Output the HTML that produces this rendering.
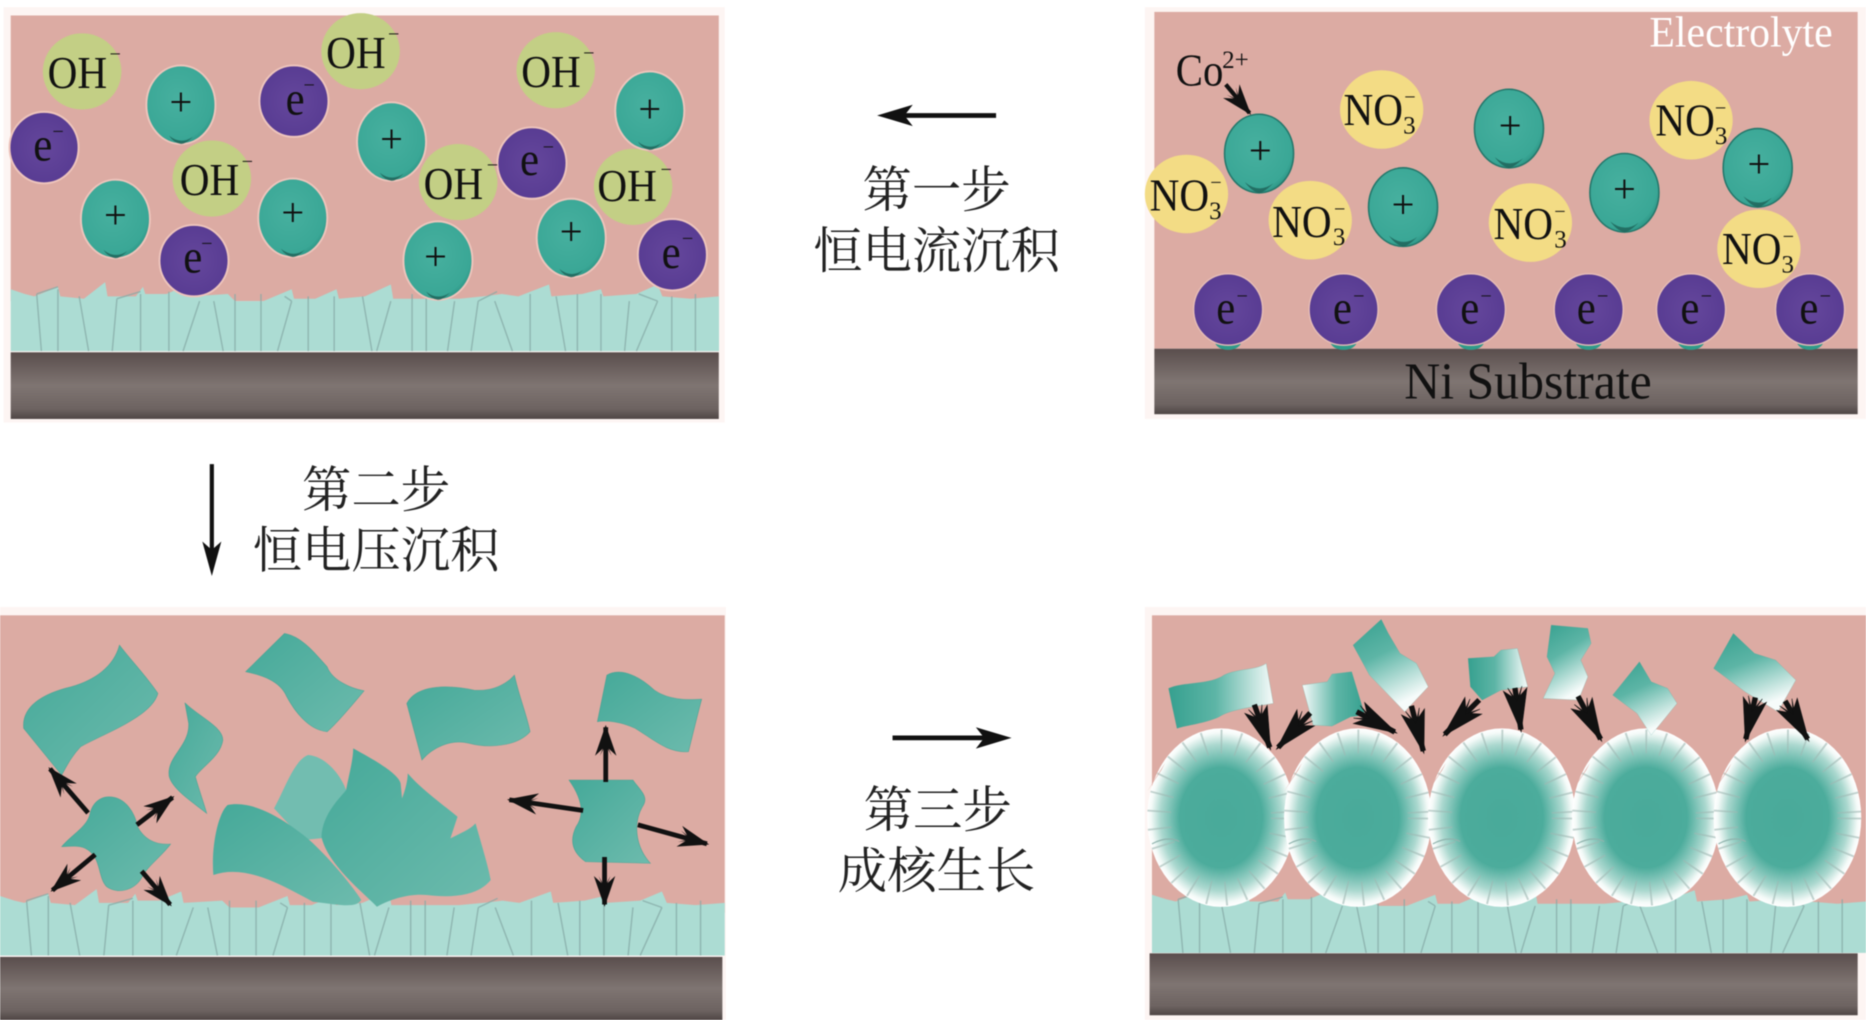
<!DOCTYPE html>
<html><head><meta charset="utf-8">
<style>
html,body{margin:0;padding:0;background:#fff;width:1866px;height:1020px;overflow:hidden}
svg{display:block;filter:blur(.55px)}
text{font-family:"Liberation Serif","Noto Serif CJK SC",serif;fill:#111}
.cn{font-family:"Noto Serif CJK SC","Liberation Serif",serif;font-size:41.5px;text-anchor:middle;fill:#222}
.p{font-size:34px;text-anchor:middle}
.m{font-size:17px}
.s{font-size:21px}
</style></head><body>
<svg width="1866" height="1020" viewBox="0 0 1568 857" preserveAspectRatio="none" xmlns="http://www.w3.org/2000/svg">
<defs>
<linearGradient id="sub" x1="0" y1="0" x2="0" y2="1"><stop offset="0" stop-color="#5a4e4d"/><stop offset=".5" stop-color="#7f7572"/><stop offset=".85" stop-color="#6d6361"/><stop offset="1" stop-color="#4f4645"/></linearGradient>
<radialGradient id="tg" cx=".45" cy=".42" r=".65"><stop offset="0" stop-color="#47b09f"/><stop offset=".8" stop-color="#3aa796"/><stop offset="1" stop-color="#24897a"/></radialGradient>
<radialGradient id="pg" cx=".5" cy=".5" r=".6"><stop offset="0" stop-color="#65479c"/><stop offset="1" stop-color="#563a91"/></radialGradient>
<radialGradient id="bg"><stop offset="0" stop-color="#49aa9a"/><stop offset=".56" stop-color="#4cac9c"/><stop offset=".82" stop-color="#abd8cf"/><stop offset=".95" stop-color="#f4faf8"/><stop offset="1" stop-color="#fff"/></radialGradient>
<linearGradient id="lr" x1="0" y1="0" x2="1" y2="0"><stop offset="0" stop-color="#36a08f"/><stop offset=".45" stop-color="#5db5a6"/><stop offset="1" stop-color="#f6fbfa"/></linearGradient>
<linearGradient id="rl" x1="1" y1="0" x2="0" y2="0"><stop offset="0" stop-color="#36a08f"/><stop offset=".45" stop-color="#5db5a6"/><stop offset="1" stop-color="#f6fbfa"/></linearGradient>
<linearGradient id="tb" x1="0" y1="0" x2=".4" y2="1"><stop offset="0" stop-color="#36a08f"/><stop offset=".45" stop-color="#5db5a6"/><stop offset="1" stop-color="#f6fbfa"/></linearGradient>
<linearGradient id="fl" x1="0" y1="0" x2="1" y2="1"><stop offset="0" stop-color="#45a999"/><stop offset="1" stop-color="#6dbbad"/></linearGradient>
<marker id="a1" markerUnits="userSpaceOnUse" markerWidth="40" markerHeight="30" viewBox="-30 -15 40 30" refX="0" refY="0" orient="auto"><path d="M2,0 L-24,-9 L-18,-2.5 L-24,-5 L-15,0 L-24,5 L-18,2.5 L-24,9Z" fill="#111"/></marker>
<marker id="a2" markerUnits="userSpaceOnUse" markerWidth="50" markerHeight="34" viewBox="-40 -17 50 34" refX="0" refY="0" orient="auto"><path d="M2,0 L-34,-10 L-28,-3 L-36,-6 L-24,0 L-36,6 L-28,3 L-34,10Z" fill="#111" stroke="#111" stroke-width=".5"/></marker>
<g id="film">
<path d="M0,4 L12,8 20,10 40,2 42,10 62,12 80,-2 82,10 106,10 112,2 114,8 132,8 150,0 152,10 184,8 190,14 214,14 238,4 240,12 258,12 276,4 278,12 300,10 322,0 324,12 346,12 380,12 400,10 416,8 430,10 456,0 458,10 484,8 500,4 502,10 530,8 548,0 552,10 576,12 600,10 V56 H0Z" fill="#acdcd3"/>
<path d="M22,8 L26,56 M40,4 L40,56 M22,8 L40,2 M58,10 L66,56 M90,12 L86,56 M90,12 L110,6 M110,8 L110,56 M134,6 L134,56 M160,14 L146,56 M172,14 L180,56 M190,8 L190,56 M212,8 L212,56 M238,14 L226,56 M232,10 L238,14 M252,10 L252,56 M274,10 L274,56 M298,10 L306,56 M322,14 L310,56 M340,8 L340,56 M352,8 L352,56 M376,14 L370,56 M396,14 L390,56 M410,14 L425,56 M396,14 L412,6 M440,8 L440,56 M462,10 L470,56 M480,8 L480,56 M500,8 L500,56 M524,14 L520,56 M548,14 L530,56 M532,8 L548,14 M560,10 L560,56 M580,8 L580,56" stroke="#86aaa5" stroke-opacity=".75" stroke-width="1.2" fill="none"/>
</g>
<g id="t"><ellipse rx="29" ry="33" fill="url(#tg)" stroke="#eec5bc" stroke-width="1.6"/><path d="M-10,26 Q0,34 10,27 Q4,33 0,33 Q-6,32 -10,26Z" fill="#1e6158" opacity=".8"/></g>
<g id="tb2"><ellipse rx="29" ry="33" fill="url(#tg)" stroke="#24776b" stroke-width="1.3"/><path d="M-12,24 Q0,34 12,25 Q4,33 0,33 Q-6,32 -12,24Z" fill="#1e6158" opacity=".8"/></g>
<g id="pu"><ellipse rx="29" ry="30" fill="url(#pg)" stroke="#eec5bc" stroke-width="1.6"/></g>
<g id="pb"><ellipse cx="0" cy="27" rx="11" ry="7" fill="#2f9a8a"/><ellipse rx="29" ry="30" fill="url(#pg)" stroke="#e6bdb6" stroke-width="1.2"/></g>
<g id="o"><ellipse rx="33" ry="32" fill="#c3cf85"/></g>
<g id="y"><ellipse rx="35" ry="33" fill="#f3dc85"/></g>
<g id="ball"><ellipse rx="62" ry="75" fill="url(#bg)"/><ellipse rx="52" ry="64" fill="none" stroke="#9fb8b3" stroke-opacity=".6" stroke-width="20" stroke-dasharray="1.4 13"/><path d="M-50,-40 L-62,-22 L-47,-46Z M46,-52 L52,-46 L44,-60Z" fill="#dcaba3"/><path d="M-58,22 Q-45,15 -35,20" fill="none" stroke="#8fb3ad" stroke-width="1"/></g>
</defs>

<!-- Panel A -->
<rect x="3" y="6" width="606" height="349" fill="#fdf5f3"/>
<rect x="9" y="13" width="595" height="240" fill="#dcaba3"/>
<use href="#film" transform="translate(9,239) scale(.992,1)"/>
<rect x="9" y="296" width="595" height="56" fill="url(#sub)"/>
<use href="#o" x="69" y="60"/><use href="#o" x="303" y="43"/><use href="#o" x="467" y="59"/><use href="#o" x="178" y="150"/><use href="#o" x="385" y="153"/><use href="#o" x="532" y="157"/>
<use href="#t" x="152" y="88"/><use href="#t" x="329" y="119"/><use href="#t" x="546" y="93"/><use href="#t" x="97" y="184"/><use href="#t" x="246" y="183"/><use href="#t" x="368" y="219"/><use href="#t" x="480" y="200"/>
<use href="#pu" x="247" y="85"/><use href="#pu" x="37" y="124"/><use href="#pu" x="447" y="137"/><use href="#pu" x="163" y="219"/><use href="#pu" x="565" y="214"/>
<text x="40" y="74" font-size="38" textLength="50" lengthAdjust="spacingAndGlyphs">OH</text><text class="m" x="92" y="51">−</text>
<text x="274" y="57" font-size="38" textLength="50" lengthAdjust="spacingAndGlyphs">OH</text><text class="m" x="326" y="34">−</text>
<text x="438" y="73" font-size="38" textLength="50" lengthAdjust="spacingAndGlyphs">OH</text><text class="m" x="490" y="50">−</text>
<text x="151" y="164" font-size="38" textLength="50" lengthAdjust="spacingAndGlyphs">OH</text><text class="m" x="203" y="141">−</text>
<text x="356" y="167" font-size="38" textLength="50" lengthAdjust="spacingAndGlyphs">OH</text><text class="m" x="409" y="144">−</text>
<text x="502" y="169" font-size="38" textLength="50" lengthAdjust="spacingAndGlyphs">OH</text><text class="m" x="555" y="148">−</text>
<text class="p" x="152" y="97">+</text><text class="p" x="329" y="128">+</text><text class="p" x="546" y="103">+</text><text class="p" x="97" y="192">+</text><text class="p" x="246" y="190">+</text><text class="p" x="366" y="227">+</text><text class="p" x="480" y="206">+</text>
<text x="240" y="96" font-size="40" textLength="16" lengthAdjust="spacingAndGlyphs">e</text><text class="m" x="255" y="77">−</text>
<text x="28" y="135" font-size="40" textLength="16" lengthAdjust="spacingAndGlyphs">e</text><text class="m" x="44" y="116">−</text>
<text x="437" y="147" font-size="40" textLength="16" lengthAdjust="spacingAndGlyphs">e</text><text class="m" x="456" y="129">−</text>
<text x="154" y="229" font-size="40" textLength="16" lengthAdjust="spacingAndGlyphs">e</text><text class="m" x="169" y="210">−</text>
<text x="556" y="225" font-size="40" textLength="16" lengthAdjust="spacingAndGlyphs">e</text><text class="m" x="573" y="206">−</text>

<!-- Panel B -->
<rect x="962" y="6" width="606" height="346" fill="#fdf5f3"/>
<rect x="970" y="10" width="591" height="283" fill="#dcaba3"/>
<rect x="970" y="293" width="591" height="55" fill="url(#sub)"/>
<use href="#y" x="1161" y="92"/><use href="#y" x="1421" y="101"/><use href="#y" x="997" y="163"/><use href="#y" x="1101" y="185"/><use href="#y" x="1286" y="187"/><use href="#y" x="1478" y="209"/>
<use href="#tb2" x="1058" y="129"/><use href="#tb2" x="1268" y="108"/><use href="#tb2" x="1179" y="174"/><use href="#tb2" x="1365" y="162"/><use href="#tb2" x="1477" y="141"/>
<use href="#pb" x="1032" y="260"/><use href="#pb" x="1129" y="260"/><use href="#pb" x="1236" y="260"/><use href="#pb" x="1335" y="260"/><use href="#pb" x="1421" y="260"/><use href="#pb" x="1521" y="260"/>
<text x="1386" y="39" font-size="36" textLength="154" lengthAdjust="spacingAndGlyphs" style="fill:#fff">Electrolyte</text>
<text x="988" y="72" font-size="38" textLength="40" lengthAdjust="spacingAndGlyphs">Co</text><text x="1027" y="57" font-size="21">2+</text>
<line x1="1030" y1="71" x2="1050" y2="95" stroke="#111" stroke-width="3.5" marker-end="url(#a1)"/>
<text x="1180" y="335" font-size="44" textLength="208" lengthAdjust="spacingAndGlyphs">Ni Substrate</text>
<text class="p" x="1059" y="138">+</text><text class="p" x="1269" y="117">+</text><text class="p" x="1179" y="183">+</text><text class="p" x="1365" y="170">+</text><text class="p" x="1478" y="149">+</text>
<text x="1129" y="105" font-size="38" textLength="50" lengthAdjust="spacingAndGlyphs">NO</text><text class="s" x="1179" y="112">3</text><text class="m" x="1180" y="87">−</text>
<text x="1391" y="114" font-size="38" textLength="50" lengthAdjust="spacingAndGlyphs">NO</text><text class="s" x="1441" y="121">3</text><text class="m" x="1441" y="96">−</text>
<text x="966" y="177" font-size="38" textLength="50" lengthAdjust="spacingAndGlyphs">NO</text><text class="s" x="1016" y="184">3</text><text class="m" x="1017" y="159">−</text>
<text x="1069" y="199" font-size="38" textLength="50" lengthAdjust="spacingAndGlyphs">NO</text><text class="s" x="1120" y="206">3</text><text class="m" x="1121" y="181">−</text>
<text x="1255" y="201" font-size="38" textLength="50" lengthAdjust="spacingAndGlyphs">NO</text><text class="s" x="1306" y="208">3</text><text class="m" x="1306" y="183">−</text>
<text x="1447" y="222" font-size="38" textLength="50" lengthAdjust="spacingAndGlyphs">NO</text><text class="s" x="1497" y="229">3</text><text class="m" x="1498" y="204">−</text>
<text x="1022" y="272" font-size="40" textLength="16" lengthAdjust="spacingAndGlyphs">e</text><text class="m" x="1039" y="254">−</text>
<text x="1120" y="272" font-size="40" textLength="16" lengthAdjust="spacingAndGlyphs">e</text><text class="m" x="1137" y="254">−</text>
<text x="1227" y="272" font-size="40" textLength="16" lengthAdjust="spacingAndGlyphs">e</text><text class="m" x="1244" y="254">−</text>
<text x="1325" y="272" font-size="40" textLength="16" lengthAdjust="spacingAndGlyphs">e</text><text class="m" x="1342" y="254">−</text>
<text x="1412" y="272" font-size="40" textLength="16" lengthAdjust="spacingAndGlyphs">e</text><text class="m" x="1429" y="254">−</text>
<text x="1512" y="272" font-size="40" textLength="16" lengthAdjust="spacingAndGlyphs">e</text><text class="m" x="1529" y="254">−</text>

<!-- Center labels & step arrows -->
<line x1="837" y1="97" x2="745" y2="97" stroke="#111" stroke-width="4"/><path d="M737,97 L767,88 L760,97 L767,106Z" fill="#111"/>
<text class="cn" x="787" y="174">第一步</text>
<text class="cn" x="787" y="225">恒电流沉积</text>
<line x1="178" y1="390" x2="178" y2="475" stroke="#111" stroke-width="3.5"/><path d="M178,484 L170,455 L178,462 L186,455Z" fill="#111"/>
<text class="cn" x="316" y="426">第二步</text>
<text class="cn" x="316" y="477">恒电压沉积</text>
<line x1="750" y1="620" x2="842" y2="620" stroke="#111" stroke-width="4"/><path d="M850,620 L820,611 L827,620 L820,629Z" fill="#111"/>
<text class="cn" x="788" y="695">第三步</text>
<text class="cn" x="787" y="746">成核生长</text>

<!-- Panel C -->
<rect x="0" y="510" width="610" height="347" fill="#fdf5f3"/>
<rect x="0" y="517" width="609" height="250" fill="#dcaba3"/>
<use href="#film" transform="translate(0,749) scale(1.015,.96)"/>
<rect x="0" y="804" width="607" height="53" fill="url(#sub)"/>
<g transform="translate(0,504.2) scale(.3984,.28)" fill="url(#fl)" stroke="#2f9e8e" stroke-width="1.5" stroke-opacity=".6">
<path d="M252,135 C270,170 310,230 333,280 C320,350 220,400 170,440 C150,470 140,500 130,525 L50,385 C45,320 90,280 150,260 C200,240 240,200 252,135Z"/>
<path d="M390,308 C420,350 470,380 470,420 C465,470 425,500 412,530 C420,570 430,610 436,640 C410,610 365,570 357,530 C350,470 400,440 398,370Z"/>
<path d="M600,100 C640,110 670,170 690,200 C700,240 740,265 768,272 C740,320 710,370 690,395 C650,390 620,330 605,290 C590,240 550,225 518,215Z"/>
<path d="M858,310 C880,250 950,255 1000,270 C1040,275 1070,250 1085,225 C1095,290 1110,340 1118,395 C1090,440 1030,445 990,430 C950,415 910,445 890,480Z"/>
<path d="M1280,225 C1310,200 1350,230 1380,270 C1410,300 1450,300 1480,297 C1470,350 1460,410 1452,455 C1410,460 1380,420 1340,385 C1310,365 1280,360 1260,365Z"/>
<path d="M230,590 C265,590 285,640 290,680 C305,720 330,735 360,732 C340,770 310,800 300,830 C285,870 250,885 225,860 C205,830 215,770 180,745 C165,735 145,740 130,740 C150,705 185,680 190,640 C195,610 210,590 230,590Z"/>
<path d="M1200,540 L1335,540 C1350,570 1370,590 1355,620 C1335,670 1340,740 1372,790 L1235,785 C1200,750 1205,710 1215,680 C1235,640 1225,590 1200,540Z"/>
<path d="M650,465 C690,470 720,530 730,570 L780,700 L640,720 L578,625 C600,570 620,480 650,465Z" fill="#72bdb0" stroke="none"/>
<path d="M450,825 C445,740 460,640 480,615 C530,600 590,650 640,705 C680,750 740,850 762,900 C750,925 720,915 660,905 C600,860 520,790 450,825Z" stroke="none"/>
<path d="M745,445 C790,480 840,520 845,550 L848,595 C855,570 860,540 860,520 C890,570 940,620 965,650 L950,715 C970,700 990,690 1003,670 C1015,730 1030,800 1035,840 C1010,885 960,895 900,885 C860,880 820,900 795,920 C760,870 690,790 678,710 C680,640 720,590 730,570 C735,530 745,480 745,445Z" stroke="none"/>
</g>
<g stroke="#111" stroke-width="4" marker-end="url(#a1)">
<line x1="74" y1="683" x2="42" y2="646"/>
<line x1="115" y1="693" x2="145" y2="670"/>
<line x1="80" y1="718" x2="44" y2="748"/>
<line x1="119" y1="732" x2="143" y2="760"/>
<line x1="509" y1="657" x2="509" y2="611"/>
<line x1="490" y1="681" x2="428" y2="672"/>
<line x1="536" y1="693" x2="594" y2="709"/>
<line x1="508" y1="720" x2="508" y2="760"/>
</g>

<!-- Panel D -->
<rect x="962" y="510" width="606" height="347" fill="#fdf5f3"/>
<rect x="968" y="517" width="600" height="250" fill="#dcaba3"/>
<use href="#film" transform="translate(968,748) scale(1,.94)"/>
<rect x="966" y="801" width="595" height="52" fill="url(#sub)"/>
<use href="#ball" x="1026" y="687"/><use href="#ball" x="1141" y="687"/><use href="#ball" x="1262" y="687"/><use href="#ball" x="1383" y="687"/><use href="#ball" x="1502" y="687"/>
<g transform="translate(949.6,504.2) scale(.3945,.28)" stroke="#2f9e8e" stroke-width="1" stroke-opacity=".4">
<path fill="url(#lr)" d="M82,265 C110,245 170,255 200,225 C230,205 270,210 290,190 L305,310 C260,320 210,330 190,350 C160,370 120,375 100,385 L90,320Z"/>
<path fill="url(#rl)" d="M367,255 L420,245 L430,222 L472,215 L500,345 L470,350 L430,378 L390,375Z"/>
<path fill="url(#tb)" d="M535,58 L550,100 L575,160 L610,190 L635,260 L585,335 L510,225 L475,135Z"/>
<path fill="url(#lr)" d="M720,175 L775,170 L790,150 L825,145 L847,260 L790,270 L750,300 L725,260Z"/>
<path fill="url(#tb)" d="M897,75 L975,85 L982,130 L960,180 L975,230 L955,300 L880,295 L905,220 L888,170Z"/>
<path fill="url(#tb)" d="M1085,185 L1110,245 L1145,265 L1165,310 L1110,405 L1080,340 L1028,285Z"/>
<path fill="url(#tb)" d="M1285,100 L1330,160 L1375,180 L1418,240 L1380,335 L1310,275 L1243,205Z"/>
</g>
<g stroke="#111" stroke-width="4.5" marker-end="url(#a2)">
<line x1="1054" y1="592" x2="1067" y2="628"/>
<line x1="1101" y1="599" x2="1074" y2="628"/>
<line x1="1140" y1="598" x2="1172" y2="615"/>
<line x1="1186" y1="593" x2="1196" y2="631"/>
<line x1="1243" y1="588" x2="1214" y2="617"/>
<line x1="1273" y1="578" x2="1278" y2="613"/>
<line x1="1326" y1="585" x2="1345" y2="621"/>
<line x1="1475" y1="586" x2="1467" y2="621"/>
<line x1="1500" y1="589" x2="1519" y2="621"/>
</g>
</svg>
</body></html>
